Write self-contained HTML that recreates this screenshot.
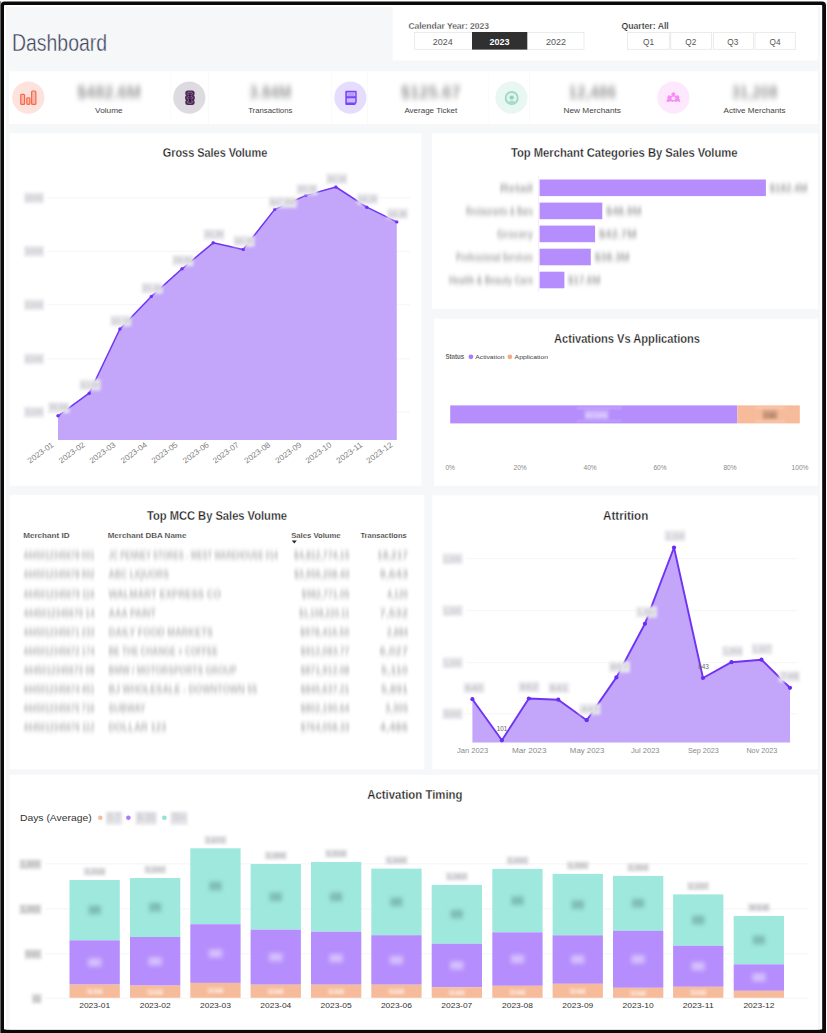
<!DOCTYPE html>
<html lang="en"><head><meta charset="utf-8"><title>Dashboard</title>
<style>
html,body{margin:0;padding:0;background:#fff;}
body{width:827px;height:1033px;overflow:hidden;font-family:"Liberation Sans",sans-serif;}
svg{display:block;position:absolute;left:0;top:0;}
text{font-family:"Liberation Sans",sans-serif;}
</style></head><body>
<svg width="827" height="1033" viewBox="0 0 827 1033">
<defs>
<filter id="b2" x="-30%" y="-100%" width="160%" height="300%"><feGaussianBlur stdDeviation="1.3 1.9"/></filter>
<filter id="b3" x="-30%" y="-100%" width="160%" height="300%"><feGaussianBlur stdDeviation="2.1 3.1"/></filter>
<filter id="bt" x="-30%" y="-100%" width="160%" height="300%"><feGaussianBlur stdDeviation="1.0 2.7"/></filter>
<filter id="bh" x="-40%" y="-100%" width="180%" height="300%"><feGaussianBlur stdDeviation="1.7"/></filter>
<filter id="bc" x="-30%" y="-100%" width="160%" height="300%"><feGaussianBlur stdDeviation="1.5 2.5"/></filter>
<filter id="bx" x="-60%" y="-100%" width="220%" height="300%"><feGaussianBlur stdDeviation="2.1"/></filter>
<filter id="bs" x="-40%" y="-100%" width="180%" height="300%"><feGaussianBlur stdDeviation="1.1"/></filter>
<filter id="soft" x="-10%" y="-10%" width="120%" height="120%"><feGaussianBlur stdDeviation="0.4"/></filter>
</defs>

<rect x="0" y="0" width="827" height="1033" fill="#fff"/>
<rect x="0" y="1.2" width="1.2" height="1032" fill="#8a8a8a"/>
<rect x="0.7" y="1.6" width="825.3" height="1045" rx="4" ry="4" fill="#0a0a0a"/>
<rect x="4" y="5" width="818.2" height="1024.6" rx="0.8" fill="#fff"/>
<rect x="6" y="7" width="814" height="1022.6" fill="#f6f7f9"/>
<rect x="392.6" y="7" width="425.4" height="53.4" fill="#fff"/>
<rect x="9" y="71.3" width="809.0" height="52.7" fill="#fff"/>
<rect x="9.5" y="133.3" width="411.9" height="352.4" fill="#fff"/>
<rect x="432" y="133.3" width="386.0" height="175.6" fill="#fff"/>
<rect x="434" y="318.7" width="384.0" height="167.0" fill="#fff"/>
<rect x="9.5" y="494.8" width="414.8" height="274.5" fill="#fff"/>
<rect x="432.3" y="495.4" width="385.7" height="273.9" fill="#fff"/>
<rect x="9.5" y="774.8" width="808.5" height="254.7" fill="#fff"/>
<text x="12.0" y="50.5" font-size="24.3" fill="#3b4157" textLength="95.0" lengthAdjust="spacingAndGlyphs" stroke="#f6f7f9" stroke-width="0.4">Dashboard</text>
<text x="408.4" y="28.9" font-size="8.3" fill="#252423" font-weight="700" textLength="80.6" lengthAdjust="spacingAndGlyphs" stroke="#fff" stroke-width="0.3">Calendar Year: 2023</text>
<rect x="414.4" y="32.4" width="169.6" height="16.9" fill="#fff" stroke="#e6e6e6" stroke-width="0.8"/>
<rect x="472" y="32" width="55.3" height="17.6" fill="#303030"/>
<text x="442.7" y="44.8" font-size="8.6" fill="#555" text-anchor="middle" textLength="20.0" lengthAdjust="spacingAndGlyphs">2024</text>
<text x="499.5" y="44.8" font-size="8.6" fill="#fff" font-weight="700" text-anchor="middle" textLength="20.0" lengthAdjust="spacingAndGlyphs">2023</text>
<text x="556.0" y="44.8" font-size="8.6" fill="#555" text-anchor="middle" textLength="20.0" lengthAdjust="spacingAndGlyphs">2022</text>
<text x="621.4" y="28.9" font-size="8.3" fill="#252423" font-weight="700" textLength="47.4" lengthAdjust="spacingAndGlyphs" stroke="#fff" stroke-width="0.2">Quarter: All</text>
<rect x="627.6" y="32.4" width="42.1" height="16.9" fill="#fff" stroke="#e6e6e6" stroke-width="0.8"/>
<text x="648.5" y="44.8" font-size="8.6" fill="#555" text-anchor="middle" textLength="11.0" lengthAdjust="spacingAndGlyphs">Q1</text>
<rect x="670.8" y="32.4" width="40.7" height="16.9" fill="#fff" stroke="#e6e6e6" stroke-width="0.8"/>
<text x="690.8" y="44.8" font-size="8.6" fill="#555" text-anchor="middle" textLength="11.0" lengthAdjust="spacingAndGlyphs">Q2</text>
<rect x="713.3" y="32.4" width="40.2" height="16.9" fill="#fff" stroke="#e6e6e6" stroke-width="0.8"/>
<text x="732.8" y="44.8" font-size="8.6" fill="#555" text-anchor="middle" textLength="11.0" lengthAdjust="spacingAndGlyphs">Q3</text>
<rect x="755.1" y="32.4" width="40.2" height="16.9" fill="#fff" stroke="#e6e6e6" stroke-width="0.8"/>
<text x="775.1" y="44.8" font-size="8.6" fill="#555" text-anchor="middle" textLength="11.0" lengthAdjust="spacingAndGlyphs">Q4</text>
<rect x="170.3" y="71.3" width="0.8" height="52.7" fill="#f9f9fb"/>
<rect x="208.0" y="71.3" width="0.8" height="52.7" fill="#f9f9fb"/>
<rect x="331.0" y="71.3" width="0.8" height="52.7" fill="#f9f9fb"/>
<rect x="367.2" y="71.3" width="0.8" height="52.7" fill="#f9f9fb"/>
<rect x="488.3" y="71.3" width="0.8" height="52.7" fill="#f9f9fb"/>
<rect x="529.2" y="71.3" width="0.8" height="52.7" fill="#f9f9fb"/>
<circle cx="28.3" cy="97.6" r="16.1" fill="#fde2dd"/>
<text x="108.9" y="98.2" font-size="17" fill="#4a4a4a" font-weight="700" text-anchor="middle" textLength="64.0" lengthAdjust="spacingAndGlyphs" filter="url(#b3)" opacity="0.56">$482.6M</text>
<text x="108.9" y="112.7" font-size="7.9" fill="#444" text-anchor="middle" textLength="27.6" lengthAdjust="spacingAndGlyphs">Volume</text>
<circle cx="189.3" cy="97.6" r="16.1" fill="#dedbe0"/>
<text x="270.3" y="98.2" font-size="17" fill="#4a4a4a" font-weight="700" text-anchor="middle" textLength="42.0" lengthAdjust="spacingAndGlyphs" filter="url(#b3)" opacity="0.56">3.84M</text>
<text x="270.3" y="112.7" font-size="7.9" fill="#444" text-anchor="middle" textLength="44.3" lengthAdjust="spacingAndGlyphs">Transactions</text>
<circle cx="350.4" cy="97.6" r="16.1" fill="#e6dcfd"/>
<text x="430.8" y="98.2" font-size="17" fill="#4a4a4a" font-weight="700" text-anchor="middle" textLength="60.0" lengthAdjust="spacingAndGlyphs" filter="url(#b3)" opacity="0.56">$125.67</text>
<text x="430.8" y="112.7" font-size="7.9" fill="#444" text-anchor="middle" textLength="52.8" lengthAdjust="spacingAndGlyphs">Average Ticket</text>
<circle cx="511.5" cy="97.6" r="16.1" fill="#e9f7f2"/>
<text x="592.2" y="98.2" font-size="17" fill="#4a4a4a" font-weight="700" text-anchor="middle" textLength="48.0" lengthAdjust="spacingAndGlyphs" filter="url(#b3)" opacity="0.56">12,486</text>
<text x="592.2" y="112.7" font-size="7.9" fill="#444" text-anchor="middle" textLength="57.5" lengthAdjust="spacingAndGlyphs">New Merchants</text>
<circle cx="673.4" cy="97.6" r="16.1" fill="#fde8fd"/>
<text x="754.5" y="98.2" font-size="17" fill="#4a4a4a" font-weight="700" text-anchor="middle" textLength="46.0" lengthAdjust="spacingAndGlyphs" filter="url(#b3)" opacity="0.56">31,208</text>
<text x="754.5" y="112.7" font-size="7.9" fill="#444" text-anchor="middle" textLength="62.0" lengthAdjust="spacingAndGlyphs">Active Merchants</text>
<g filter="url(#soft)">
<g fill="#f9b5a6" stroke="#f26a4b" stroke-width="1.15" stroke-linejoin="round"><rect x="20.7" y="94.3" width="3.9" height="10.1" rx="1"/><rect x="26.8" y="97.7" width="3.1" height="6.7" rx="0.8"/><rect x="31.6" y="91" width="4.3" height="13.4" rx="1"/></g>
<g><rect x="185.3" y="90.5" width="9.3" height="5.4" rx="2.5" fill="#4d2755"/><rect x="185.1" y="95" width="9.7" height="5.4" rx="2.5" fill="#4d2755"/><rect x="185.3" y="99.6" width="9.3" height="5.4" rx="2.5" fill="#4d2755"/><g fill="none" stroke="#9f8ba4" stroke-width="0.65"><ellipse cx="189.95" cy="93.6" rx="2.7" ry="1.5"/><ellipse cx="189.95" cy="97.8" rx="2.8" ry="1.5"/><ellipse cx="189.95" cy="101.9" rx="2.7" ry="1.5"/></g><circle cx="189.9" cy="95.7" r="1.15" fill="#35123b"/><circle cx="190.2" cy="99.9" r="1.25" fill="#35123b"/></g>
<g><path d="M345.3 91.7 q0 -1 1 -1 h9.4 q1 0 1 1 v10.9 l-1.7 2.4 h-8.7 q-1 0 -1 -1 z" fill="#7745f7"/><rect x="346.8" y="92.2" width="8.5" height="4" rx="0.5" fill="#c4b0fc"/><rect x="346.8" y="98.2" width="8.5" height="4.2" rx="0.5" fill="#cbb9fd"/><g fill="#9d7bfa"><rect x="348.6" y="92.8" width="0.7" height="3.2"/><rect x="350.6" y="92.8" width="0.7" height="3.2"/><rect x="352.6" y="92.8" width="0.7" height="3.2"/></g></g>
<g><circle cx="511.7" cy="98" r="6.1" fill="#dff3ea" stroke="#9ad8c0" stroke-width="1.7"/><circle cx="511.7" cy="97.5" r="2.1" fill="#8ed3b8"/><path d="M507.6 102.6 q4.1 -4.4 8.2 0 q-4.1 3.2 -8.2 0 z" fill="#a6dec9"/></g>
<g fill="#f78cf2"><circle cx="673.4" cy="94.2" r="1.9"/><circle cx="669.4" cy="97.2" r="1.9"/><circle cx="677.4" cy="97.2" r="1.9"/><path d="M666.3 101.6 q1 -3.6 3.1 -5 l4 -1.6 l4 1.6 q2.1 1.4 3.1 5 q-0.9 0.8 -1.7 0 q-0.9 -0.9 -1.8 0 q-0.9 0.9 -1.8 0 q-0.9 -0.9 -1.8 0 q-0.9 0.9 -1.8 0 q-0.9 -0.9 -1.8 0 q-0.9 0.9 -1.8 0 q-0.8 0.8 -1.7 0 z"/><circle cx="673.4" cy="98.3" r="1.9" fill="#fde3fc"/></g>
</g>
<text x="215.0" y="157.4" font-size="12.3" fill="#1c1c1c" font-weight="700" text-anchor="middle" textLength="104.6" lengthAdjust="spacingAndGlyphs" stroke="#fff" stroke-width="0.28">Gross Sales Volume</text>
<rect x="47" y="197.5" width="363" height="0.8" fill="#f2f2f2"/>
<g filter="url(#bh)"><rect x="24.0" y="192.4" width="20" height="11" fill="#e8e8ec" opacity="0.95"/><text x="34.0" y="200.8" font-size="8.4" font-weight="700" fill="#a5a5a8" opacity="0.4" text-anchor="middle" textLength="17.0" lengthAdjust="spacingAndGlyphs">$50M</text></g>
<rect x="47" y="250.9" width="363" height="0.8" fill="#f2f2f2"/>
<g filter="url(#bh)"><rect x="24.0" y="245.8" width="20" height="11" fill="#e8e8ec" opacity="0.95"/><text x="34.0" y="254.2" font-size="8.4" font-weight="700" fill="#a5a5a8" opacity="0.4" text-anchor="middle" textLength="17.0" lengthAdjust="spacingAndGlyphs">$40M</text></g>
<rect x="47" y="304.4" width="363" height="0.8" fill="#f2f2f2"/>
<g filter="url(#bh)"><rect x="24.0" y="299.3" width="20" height="11" fill="#e8e8ec" opacity="0.95"/><text x="34.0" y="307.7" font-size="8.4" font-weight="700" fill="#a5a5a8" opacity="0.4" text-anchor="middle" textLength="17.0" lengthAdjust="spacingAndGlyphs">$30M</text></g>
<rect x="47" y="358.5" width="363" height="0.8" fill="#f2f2f2"/>
<g filter="url(#bh)"><rect x="24.0" y="353.4" width="20" height="11" fill="#e8e8ec" opacity="0.95"/><text x="34.0" y="361.8" font-size="8.4" font-weight="700" fill="#a5a5a8" opacity="0.4" text-anchor="middle" textLength="17.0" lengthAdjust="spacingAndGlyphs">$20M</text></g>
<rect x="47" y="411.7" width="363" height="0.8" fill="#f2f2f2"/>
<g filter="url(#bh)"><rect x="24.0" y="406.6" width="20" height="11" fill="#e8e8ec" opacity="0.95"/><text x="34.0" y="415.0" font-size="8.4" font-weight="700" fill="#a5a5a8" opacity="0.4" text-anchor="middle" textLength="17.0" lengthAdjust="spacingAndGlyphs">$10M</text></g>
<path d="M58.0 415.8 L89.2 393.2 L119.9 329.0 L151.3 296.4 L182.0 268.8 L213.2 242.8 L243.2 249.4 L274.7 209.4 L305.8 195.4 L335.9 187.0 L366.8 207.2 L396.8 221.9 L396.8 440 L58.0 440 Z" fill="#c3a5fa"/>
<path d="M58.0 415.8 L89.2 393.2 L119.9 329.0 L151.3 296.4 L182.0 268.8 L213.2 242.8 L243.2 249.4 L274.7 209.4 L305.8 195.4 L335.9 187.0 L366.8 207.2 L396.8 221.9" fill="none" stroke="#6f33f4" stroke-width="1.5" stroke-linejoin="round"/>
<circle cx="58.0" cy="415.8" r="1.7" fill="#6a2df3"/>
<circle cx="89.2" cy="393.2" r="1.7" fill="#6a2df3"/>
<circle cx="119.9" cy="329.0" r="1.7" fill="#6a2df3"/>
<circle cx="151.3" cy="296.4" r="1.7" fill="#6a2df3"/>
<circle cx="182.0" cy="268.8" r="1.7" fill="#6a2df3"/>
<circle cx="213.2" cy="242.8" r="1.7" fill="#6a2df3"/>
<circle cx="243.2" cy="249.4" r="1.7" fill="#6a2df3"/>
<circle cx="274.7" cy="209.4" r="1.7" fill="#6a2df3"/>
<circle cx="305.8" cy="195.4" r="1.7" fill="#6a2df3"/>
<circle cx="335.9" cy="187.0" r="1.7" fill="#6a2df3"/>
<circle cx="366.8" cy="207.2" r="1.7" fill="#6a2df3"/>
<circle cx="396.8" cy="221.9" r="1.7" fill="#6a2df3"/>
<g filter="url(#bh)"><rect x="48.3" y="402.0" width="21" height="11" fill="#ebebf0" opacity="1"/><text x="58.8" y="410.4" font-size="8.6" font-weight="700" fill="#888" opacity="0.36" text-anchor="middle" textLength="18.0" lengthAdjust="spacingAndGlyphs">$9.6M</text></g>
<g filter="url(#bh)"><rect x="79.5" y="379.4" width="21" height="11" fill="#ebebf0" opacity="1"/><text x="90.0" y="387.8" font-size="8.6" font-weight="700" fill="#888" opacity="0.36" text-anchor="middle" textLength="18.0" lengthAdjust="spacingAndGlyphs">$13.8M</text></g>
<g filter="url(#bh)"><rect x="110.2" y="315.2" width="21" height="11" fill="#ebebf0" opacity="1"/><text x="120.7" y="323.6" font-size="8.6" font-weight="700" fill="#888" opacity="0.36" text-anchor="middle" textLength="18.0" lengthAdjust="spacingAndGlyphs">$25.7M</text></g>
<g filter="url(#bh)"><rect x="141.6" y="282.6" width="21" height="11" fill="#ebebf0" opacity="1"/><text x="152.1" y="291.0" font-size="8.6" font-weight="700" fill="#888" opacity="0.36" text-anchor="middle" textLength="18.0" lengthAdjust="spacingAndGlyphs">$31.4M</text></g>
<g filter="url(#bh)"><rect x="172.3" y="255.0" width="21" height="11" fill="#ebebf0" opacity="1"/><text x="182.8" y="263.4" font-size="8.6" font-weight="700" fill="#888" opacity="0.36" text-anchor="middle" textLength="18.0" lengthAdjust="spacingAndGlyphs">$36.6M</text></g>
<g filter="url(#bh)"><rect x="203.5" y="229.0" width="21" height="11" fill="#ebebf0" opacity="1"/><text x="214.0" y="237.4" font-size="8.6" font-weight="700" fill="#888" opacity="0.36" text-anchor="middle" textLength="18.0" lengthAdjust="spacingAndGlyphs">$41.5M</text></g>
<g filter="url(#bh)"><rect x="233.5" y="235.6" width="21" height="11" fill="#ebebf0" opacity="1"/><text x="244.0" y="244.0" font-size="8.6" font-weight="700" fill="#888" opacity="0.36" text-anchor="middle" textLength="18.0" lengthAdjust="spacingAndGlyphs">$40.3M</text></g>
<g filter="url(#bh)"><rect x="268.7" y="196.7" width="28" height="11" fill="#ebebf0" opacity="1"/><text x="282.7" y="205.1" font-size="8.6" font-weight="700" fill="#888" opacity="0.36" text-anchor="middle" textLength="25.0" lengthAdjust="spacingAndGlyphs">$47.8M</text></g>
<g filter="url(#bh)"><rect x="296.5" y="183.9" width="21" height="11" fill="#ebebf0" opacity="1"/><text x="307.0" y="192.3" font-size="8.6" font-weight="700" fill="#888" opacity="0.36" text-anchor="middle" textLength="18.0" lengthAdjust="spacingAndGlyphs">$50.2M</text></g>
<g filter="url(#bh)"><rect x="326.2" y="173.2" width="21" height="11" fill="#ebebf0" opacity="1"/><text x="336.7" y="181.6" font-size="8.6" font-weight="700" fill="#888" opacity="0.36" text-anchor="middle" textLength="18.0" lengthAdjust="spacingAndGlyphs">$52.1M</text></g>
<g filter="url(#bh)"><rect x="357.1" y="193.4" width="21" height="11" fill="#ebebf0" opacity="1"/><text x="367.6" y="201.8" font-size="8.6" font-weight="700" fill="#888" opacity="0.36" text-anchor="middle" textLength="18.0" lengthAdjust="spacingAndGlyphs">$48.2M</text></g>
<g filter="url(#bh)"><rect x="387.1" y="208.1" width="21" height="11" fill="#ebebf0" opacity="1"/><text x="397.6" y="216.5" font-size="8.6" font-weight="700" fill="#888" opacity="0.36" text-anchor="middle" textLength="18.0" lengthAdjust="spacingAndGlyphs">$45.3M</text></g>
<text x="54.3" y="446" font-size="8" fill="#808080" text-anchor="end" transform="rotate(-36 54.3 446)" textLength="30" lengthAdjust="spacingAndGlyphs">2023-01</text>
<text x="85.5" y="446" font-size="8" fill="#808080" text-anchor="end" transform="rotate(-36 85.5 446)" textLength="30" lengthAdjust="spacingAndGlyphs">2023-02</text>
<text x="116.2" y="446" font-size="8" fill="#808080" text-anchor="end" transform="rotate(-36 116.2 446)" textLength="30" lengthAdjust="spacingAndGlyphs">2023-03</text>
<text x="147.6" y="446" font-size="8" fill="#808080" text-anchor="end" transform="rotate(-36 147.6 446)" textLength="30" lengthAdjust="spacingAndGlyphs">2023-04</text>
<text x="178.3" y="446" font-size="8" fill="#808080" text-anchor="end" transform="rotate(-36 178.3 446)" textLength="30" lengthAdjust="spacingAndGlyphs">2023-05</text>
<text x="209.5" y="446" font-size="8" fill="#808080" text-anchor="end" transform="rotate(-36 209.5 446)" textLength="30" lengthAdjust="spacingAndGlyphs">2023-06</text>
<text x="239.5" y="446" font-size="8" fill="#808080" text-anchor="end" transform="rotate(-36 239.5 446)" textLength="30" lengthAdjust="spacingAndGlyphs">2023-07</text>
<text x="271.0" y="446" font-size="8" fill="#808080" text-anchor="end" transform="rotate(-36 271.0 446)" textLength="30" lengthAdjust="spacingAndGlyphs">2023-08</text>
<text x="302.1" y="446" font-size="8" fill="#808080" text-anchor="end" transform="rotate(-36 302.1 446)" textLength="30" lengthAdjust="spacingAndGlyphs">2023-09</text>
<text x="332.2" y="446" font-size="8" fill="#808080" text-anchor="end" transform="rotate(-36 332.2 446)" textLength="30" lengthAdjust="spacingAndGlyphs">2023-10</text>
<text x="363.1" y="446" font-size="8" fill="#808080" text-anchor="end" transform="rotate(-36 363.1 446)" textLength="30" lengthAdjust="spacingAndGlyphs">2023-11</text>
<text x="393.1" y="446" font-size="8" fill="#808080" text-anchor="end" transform="rotate(-36 393.1 446)" textLength="30" lengthAdjust="spacingAndGlyphs">2023-12</text>
<text x="624.2" y="157.2" font-size="12.3" fill="#1c1c1c" font-weight="700" text-anchor="middle" textLength="226.6" lengthAdjust="spacingAndGlyphs" stroke="#fff" stroke-width="0.28">Top Merchant Categories By Sales Volume</text>
<rect x="538.2" y="176" width="0.9" height="116" fill="#eee9fb"/>
<rect x="539.6" y="179.5" width="226.3" height="16.6" fill="#b58dfc"/>
<text x="533.0" y="191.6" font-size="10.6" fill="#555" font-weight="700" text-anchor="end" textLength="33.0" lengthAdjust="spacingAndGlyphs" filter="url(#bc)" opacity="0.55">Retail</text>
<text x="769.6" y="191.6" font-size="10.6" fill="#555" font-weight="700" textLength="38.0" lengthAdjust="spacingAndGlyphs" filter="url(#bc)" opacity="0.55">$182.4M</text>
<rect x="539.6" y="202.6" width="62.7" height="16.6" fill="#b58dfc"/>
<text x="533.0" y="214.7" font-size="10.6" fill="#555" font-weight="700" text-anchor="end" textLength="67.0" lengthAdjust="spacingAndGlyphs" filter="url(#bc)" opacity="0.55">Restaurants & Bars</text>
<text x="606.0" y="214.7" font-size="10.6" fill="#555" font-weight="700" textLength="35.6" lengthAdjust="spacingAndGlyphs" filter="url(#bc)" opacity="0.55">$48.9M</text>
<rect x="539.6" y="225.6" width="55.5" height="16.6" fill="#b58dfc"/>
<text x="533.0" y="237.7" font-size="10.6" fill="#555" font-weight="700" text-anchor="end" textLength="36.0" lengthAdjust="spacingAndGlyphs" filter="url(#bc)" opacity="0.55">Grocery</text>
<text x="598.8" y="237.7" font-size="10.6" fill="#555" font-weight="700" textLength="37.8" lengthAdjust="spacingAndGlyphs" filter="url(#bc)" opacity="0.55">$42.7M</text>
<rect x="539.6" y="248.7" width="51.2" height="16.6" fill="#b58dfc"/>
<text x="533.0" y="260.8" font-size="10.6" fill="#555" font-weight="700" text-anchor="end" textLength="77.0" lengthAdjust="spacingAndGlyphs" filter="url(#bc)" opacity="0.55">Professional Services</text>
<text x="594.5" y="260.8" font-size="10.6" fill="#555" font-weight="700" textLength="35.1" lengthAdjust="spacingAndGlyphs" filter="url(#bc)" opacity="0.55">$38.3M</text>
<rect x="539.6" y="271.7" width="24.8" height="16.6" fill="#b58dfc"/>
<text x="533.0" y="283.8" font-size="10.6" fill="#555" font-weight="700" text-anchor="end" textLength="84.0" lengthAdjust="spacingAndGlyphs" filter="url(#bc)" opacity="0.55">Health & Beauty Care</text>
<text x="568.1" y="283.8" font-size="10.6" fill="#555" font-weight="700" textLength="32.5" lengthAdjust="spacingAndGlyphs" filter="url(#bc)" opacity="0.55">$17.6M</text>
<text x="627.0" y="343.1" font-size="12.3" fill="#1c1c1c" font-weight="700" text-anchor="middle" textLength="146.0" lengthAdjust="spacingAndGlyphs" stroke="#fff" stroke-width="0.28">Activations Vs Applications</text>
<text x="445.4" y="359.0" font-size="6.4" fill="#2a2a2a" font-weight="700" textLength="18.8" lengthAdjust="spacingAndGlyphs" stroke="#fff" stroke-width="0.2">Status</text>
<circle cx="470.9" cy="356.8" r="2.4" fill="#a87bfb"/>
<text x="475.3" y="359.0" font-size="6.2" fill="#444" textLength="29.1" lengthAdjust="spacingAndGlyphs">Activation</text>
<circle cx="509.9" cy="356.8" r="2.4" fill="#f4ab84"/>
<text x="514.6" y="359.0" font-size="6.2" fill="#444" textLength="33.4" lengthAdjust="spacingAndGlyphs">Application</text>
<rect x="450.2" y="405.4" width="287.2" height="18" fill="#b58dfc"/>
<rect x="737.4" y="405.4" width="62.4" height="18" fill="#f6bb9a"/>
<g filter="url(#bs)"><rect x="577" y="407.6" width="45" height="0.9" fill="#fff" opacity="0.5"/><rect x="577" y="420.4" width="45" height="0.9" fill="#fff" opacity="0.35"/><rect x="755" y="407.4" width="30" height="0.9" fill="#fff" opacity="0.5"/><rect x="755" y="420.8" width="30" height="0.9" fill="#fff" opacity="0.5"/></g>
<g filter="url(#bh)"><rect x="584.5" y="410.1" width="24" height="9" fill="#d2bdfe" opacity="0.75"/><text x="596.5" y="417.5" font-size="8" font-weight="700" fill="#fff" opacity="0.5" text-anchor="middle" textLength="21.0" lengthAdjust="spacingAndGlyphs">82.14%</text></g>
<g filter="url(#bh)"><rect x="762.5" y="410.1" width="15" height="9" fill="#c9957a" opacity="0.75"/><text x="770.0" y="417.5" font-size="8" font-weight="700" fill="#7a5646" opacity="0.6" text-anchor="middle" textLength="12.0" lengthAdjust="spacingAndGlyphs">17.86%</text></g>
<text x="450.2" y="470.4" font-size="6.6" fill="#8a8a8a" text-anchor="middle">0%</text>
<text x="520.1" y="470.4" font-size="6.6" fill="#8a8a8a" text-anchor="middle">20%</text>
<text x="590.1" y="470.4" font-size="6.6" fill="#8a8a8a" text-anchor="middle">40%</text>
<text x="660.0" y="470.4" font-size="6.6" fill="#8a8a8a" text-anchor="middle">60%</text>
<text x="730.0" y="470.4" font-size="6.6" fill="#8a8a8a" text-anchor="middle">80%</text>
<text x="800.0" y="470.4" font-size="6.6" fill="#8a8a8a" text-anchor="middle">100%</text>
<text x="217.0" y="519.8" font-size="12.3" fill="#1c1c1c" font-weight="700" text-anchor="middle" textLength="140.0" lengthAdjust="spacingAndGlyphs" stroke="#fff" stroke-width="0.28">Top MCC By Sales Volume</text>
<text x="23.2" y="538.1" font-size="7.6" fill="#252423" font-weight="700" textLength="46.3" lengthAdjust="spacingAndGlyphs" stroke="#fff" stroke-width="0.2">Merchant ID</text>
<text x="107.7" y="538.1" font-size="7.6" fill="#252423" font-weight="700" textLength="78.7" lengthAdjust="spacingAndGlyphs" stroke="#fff" stroke-width="0.2">Merchant DBA Name</text>
<text x="291.2" y="538.1" font-size="7.6" fill="#252423" font-weight="700" textLength="49.4" lengthAdjust="spacingAndGlyphs" stroke="#fff" stroke-width="0.2">Sales Volume</text>
<text x="360.4" y="538.1" font-size="7.6" fill="#252423" font-weight="700" textLength="46.3" lengthAdjust="spacingAndGlyphs" stroke="#fff" stroke-width="0.2">Transactions</text>
<path d="M291.8 540.6 h5 l-2.5 2.8 z" fill="#252423"/>
<text x="23.5" y="558.9" font-size="10.6" fill="#555" font-weight="700" textLength="71.0" lengthAdjust="spacingAndGlyphs" filter="url(#bt)" opacity="0.44">4445012345678 001</text>
<text x="108.5" y="558.9" font-size="10.6" fill="#555" font-weight="700" textLength="169.5" lengthAdjust="spacingAndGlyphs" filter="url(#bt)" opacity="0.44">JC PENNEY STORES - WEST WAREHOUSE 014</text>
<text x="349.5" y="558.9" font-size="10.6" fill="#555" font-weight="700" text-anchor="end" textLength="55.7" lengthAdjust="spacingAndGlyphs" filter="url(#bt)" opacity="0.44">$4,812,774.15</text>
<text x="408.0" y="558.9" font-size="10.6" fill="#555" font-weight="700" text-anchor="end" textLength="31.0" lengthAdjust="spacingAndGlyphs" filter="url(#bt)" opacity="0.44">18,217</text>
<text x="23.5" y="578.3" font-size="10.6" fill="#555" font-weight="700" textLength="71.0" lengthAdjust="spacingAndGlyphs" filter="url(#bt)" opacity="0.44">4445012345678 902</text>
<text x="108.5" y="578.3" font-size="10.6" fill="#555" font-weight="700" textLength="60.5" lengthAdjust="spacingAndGlyphs" filter="url(#bt)" opacity="0.44">ABC LIQUORS</text>
<text x="349.5" y="578.3" font-size="10.6" fill="#555" font-weight="700" text-anchor="end" textLength="55.5" lengthAdjust="spacingAndGlyphs" filter="url(#bt)" opacity="0.44">$3,956,208.40</text>
<text x="408.0" y="578.3" font-size="10.6" fill="#555" font-weight="700" text-anchor="end" textLength="28.4" lengthAdjust="spacingAndGlyphs" filter="url(#bt)" opacity="0.44">9,643</text>
<text x="23.5" y="597.5" font-size="10.6" fill="#555" font-weight="700" textLength="71.0" lengthAdjust="spacingAndGlyphs" filter="url(#bt)" opacity="0.44">4445012345679 116</text>
<text x="108.5" y="597.5" font-size="10.6" fill="#555" font-weight="700" textLength="112.5" lengthAdjust="spacingAndGlyphs" filter="url(#bt)" opacity="0.44">WALMART EXPRESS CO</text>
<text x="349.5" y="597.5" font-size="10.6" fill="#555" font-weight="700" text-anchor="end" textLength="47.9" lengthAdjust="spacingAndGlyphs" filter="url(#bt)" opacity="0.44">$982,771.05</text>
<text x="408.0" y="597.5" font-size="10.6" fill="#555" font-weight="700" text-anchor="end" textLength="21.0" lengthAdjust="spacingAndGlyphs" filter="url(#bt)" opacity="0.44">4,120</text>
<text x="23.5" y="616.7" font-size="10.6" fill="#555" font-weight="700" textLength="71.0" lengthAdjust="spacingAndGlyphs" filter="url(#bt)" opacity="0.44">4445012345670 14</text>
<text x="108.5" y="616.7" font-size="10.6" fill="#555" font-weight="700" textLength="47.5" lengthAdjust="spacingAndGlyphs" filter="url(#bt)" opacity="0.44">AAA PAINT</text>
<text x="349.5" y="616.7" font-size="10.6" fill="#555" font-weight="700" text-anchor="end" textLength="50.5" lengthAdjust="spacingAndGlyphs" filter="url(#bt)" opacity="0.44">$1,108,220.11</text>
<text x="408.0" y="616.7" font-size="10.6" fill="#555" font-weight="700" text-anchor="end" textLength="28.4" lengthAdjust="spacingAndGlyphs" filter="url(#bt)" opacity="0.44">7,532</text>
<text x="23.5" y="635.8" font-size="10.6" fill="#555" font-weight="700" textLength="71.0" lengthAdjust="spacingAndGlyphs" filter="url(#bt)" opacity="0.44">4445012345671 233</text>
<text x="108.5" y="635.8" font-size="10.6" fill="#555" font-weight="700" textLength="104.5" lengthAdjust="spacingAndGlyphs" filter="url(#bt)" opacity="0.44">DAILY FOOD MARKETS</text>
<text x="349.5" y="635.8" font-size="10.6" fill="#555" font-weight="700" text-anchor="end" textLength="49.5" lengthAdjust="spacingAndGlyphs" filter="url(#bt)" opacity="0.44">$978,416.50</text>
<text x="408.0" y="635.8" font-size="10.6" fill="#555" font-weight="700" text-anchor="end" textLength="21.0" lengthAdjust="spacingAndGlyphs" filter="url(#bt)" opacity="0.44">2,884</text>
<text x="23.5" y="655.0" font-size="10.6" fill="#555" font-weight="700" textLength="71.0" lengthAdjust="spacingAndGlyphs" filter="url(#bt)" opacity="0.44">4445012345672 174</text>
<text x="108.5" y="655.0" font-size="10.6" fill="#555" font-weight="700" textLength="109.5" lengthAdjust="spacingAndGlyphs" filter="url(#bt)" opacity="0.44">BE THE CHANGE + COFFEE</text>
<text x="349.5" y="655.0" font-size="10.6" fill="#555" font-weight="700" text-anchor="end" textLength="48.9" lengthAdjust="spacingAndGlyphs" filter="url(#bt)" opacity="0.44">$912,083.77</text>
<text x="408.0" y="655.0" font-size="10.6" fill="#555" font-weight="700" text-anchor="end" textLength="28.4" lengthAdjust="spacingAndGlyphs" filter="url(#bt)" opacity="0.44">6,027</text>
<text x="23.5" y="674.0" font-size="10.6" fill="#555" font-weight="700" textLength="71.0" lengthAdjust="spacingAndGlyphs" filter="url(#bt)" opacity="0.44">4445012345673 08</text>
<text x="108.5" y="674.0" font-size="10.6" fill="#555" font-weight="700" textLength="128.1" lengthAdjust="spacingAndGlyphs" filter="url(#bt)" opacity="0.44">BMW / MOTORSPORTS GROUP</text>
<text x="349.5" y="674.0" font-size="10.6" fill="#555" font-weight="700" text-anchor="end" textLength="48.9" lengthAdjust="spacingAndGlyphs" filter="url(#bt)" opacity="0.44">$871,912.08</text>
<text x="408.0" y="674.0" font-size="10.6" fill="#555" font-weight="700" text-anchor="end" textLength="27.0" lengthAdjust="spacingAndGlyphs" filter="url(#bt)" opacity="0.44">5,110</text>
<text x="23.5" y="693.2" font-size="10.6" fill="#555" font-weight="700" textLength="71.0" lengthAdjust="spacingAndGlyphs" filter="url(#bt)" opacity="0.44">4445012345674 451</text>
<text x="108.5" y="693.2" font-size="10.6" fill="#555" font-weight="700" textLength="148.9" lengthAdjust="spacingAndGlyphs" filter="url(#bt)" opacity="0.44">BJ WHOLESALE - DOWNTOWN 55</text>
<text x="349.5" y="693.2" font-size="10.6" fill="#555" font-weight="700" text-anchor="end" textLength="48.9" lengthAdjust="spacingAndGlyphs" filter="url(#bt)" opacity="0.44">$845,637.21</text>
<text x="408.0" y="693.2" font-size="10.6" fill="#555" font-weight="700" text-anchor="end" textLength="27.0" lengthAdjust="spacingAndGlyphs" filter="url(#bt)" opacity="0.44">5,891</text>
<text x="23.5" y="712.4" font-size="10.6" fill="#555" font-weight="700" textLength="71.0" lengthAdjust="spacingAndGlyphs" filter="url(#bt)" opacity="0.44">4445012345675 716</text>
<text x="108.5" y="712.4" font-size="10.6" fill="#555" font-weight="700" textLength="37.1" lengthAdjust="spacingAndGlyphs" filter="url(#bt)" opacity="0.44">SUBWAY</text>
<text x="349.5" y="712.4" font-size="10.6" fill="#555" font-weight="700" text-anchor="end" textLength="48.9" lengthAdjust="spacingAndGlyphs" filter="url(#bt)" opacity="0.44">$802,190.64</text>
<text x="408.0" y="712.4" font-size="10.6" fill="#555" font-weight="700" text-anchor="end" textLength="23.0" lengthAdjust="spacingAndGlyphs" filter="url(#bt)" opacity="0.44">3,305</text>
<text x="23.5" y="731.4" font-size="10.6" fill="#555" font-weight="700" textLength="71.0" lengthAdjust="spacingAndGlyphs" filter="url(#bt)" opacity="0.44">4445012345676 112</text>
<text x="108.5" y="731.4" font-size="10.6" fill="#555" font-weight="700" textLength="57.9" lengthAdjust="spacingAndGlyphs" filter="url(#bt)" opacity="0.44">DOLLAR 123</text>
<text x="349.5" y="731.4" font-size="10.6" fill="#555" font-weight="700" text-anchor="end" textLength="48.9" lengthAdjust="spacingAndGlyphs" filter="url(#bt)" opacity="0.44">$764,058.33</text>
<text x="408.0" y="731.4" font-size="10.6" fill="#555" font-weight="700" text-anchor="end" textLength="28.4" lengthAdjust="spacingAndGlyphs" filter="url(#bt)" opacity="0.44">4,486</text>
<text x="625.7" y="519.6" font-size="12.3" fill="#1c1c1c" font-weight="700" text-anchor="middle" textLength="45.3" lengthAdjust="spacingAndGlyphs" stroke="#fff" stroke-width="0.28">Attrition</text>
<rect x="466.3" y="558.3" width="330.5" height="0.8" fill="#f2f2f2"/>
<g filter="url(#bh)"><rect x="442.5" y="553.2" width="20" height="11" fill="#e8e8ec" opacity="0.95"/><text x="452.5" y="561.6" font-size="8.4" font-weight="700" fill="#a5a5a8" opacity="0.4" text-anchor="middle" textLength="17.0" lengthAdjust="spacingAndGlyphs">2,000</text></g>
<rect x="466.3" y="610.3" width="330.5" height="0.8" fill="#f2f2f2"/>
<g filter="url(#bh)"><rect x="442.5" y="605.2" width="20" height="11" fill="#e8e8ec" opacity="0.95"/><text x="452.5" y="613.6" font-size="8.4" font-weight="700" fill="#a5a5a8" opacity="0.4" text-anchor="middle" textLength="17.0" lengthAdjust="spacingAndGlyphs">1,500</text></g>
<rect x="466.3" y="662.4" width="330.5" height="0.8" fill="#f2f2f2"/>
<g filter="url(#bh)"><rect x="442.5" y="657.3" width="20" height="11" fill="#e8e8ec" opacity="0.95"/><text x="452.5" y="665.7" font-size="8.4" font-weight="700" fill="#a5a5a8" opacity="0.4" text-anchor="middle" textLength="17.0" lengthAdjust="spacingAndGlyphs">1,000</text></g>
<rect x="466.3" y="713.4" width="330.5" height="0.8" fill="#f2f2f2"/>
<g filter="url(#bh)"><rect x="442.5" y="708.3" width="20" height="11" fill="#e8e8ec" opacity="0.95"/><text x="452.5" y="716.7" font-size="8.4" font-weight="700" fill="#a5a5a8" opacity="0.4" text-anchor="middle" textLength="17.0" lengthAdjust="spacingAndGlyphs">500</text></g>
<path d="M472.4 699.2 L501.9 740.3 L528.8 698.5 L558.3 699.7 L586.7 720.2 L616.4 677.4 L644.9 623.8 L674.0 547.5 L703.0 678.0 L731.5 662.2 L761.5 659.7 L790.0 687.8 L790.0 742.6 L472.4 742.6 Z" fill="#c3a5fa"/>
<path d="M472.4 699.2 L501.9 740.3 L528.8 698.5 L558.3 699.7 L586.7 720.2 L616.4 677.4 L644.9 623.8 L674.0 547.5 L703.0 678.0 L731.5 662.2 L761.5 659.7 L790.0 687.8" fill="none" stroke="#6f33f4" stroke-width="1.9" stroke-linejoin="round"/>
<circle cx="472.4" cy="699.2" r="2.1" fill="#6a2df3"/>
<circle cx="501.9" cy="740.3" r="2.1" fill="#6a2df3"/>
<circle cx="528.8" cy="698.5" r="2.1" fill="#6a2df3"/>
<circle cx="558.3" cy="699.7" r="2.1" fill="#6a2df3"/>
<circle cx="586.7" cy="720.2" r="2.1" fill="#6a2df3"/>
<circle cx="616.4" cy="677.4" r="2.1" fill="#6a2df3"/>
<circle cx="644.9" cy="623.8" r="2.1" fill="#6a2df3"/>
<circle cx="674.0" cy="547.5" r="2.1" fill="#6a2df3"/>
<circle cx="703.0" cy="678.0" r="2.1" fill="#6a2df3"/>
<circle cx="731.5" cy="662.2" r="2.1" fill="#6a2df3"/>
<circle cx="761.5" cy="659.7" r="2.1" fill="#6a2df3"/>
<circle cx="790.0" cy="687.8" r="2.1" fill="#6a2df3"/>
<g filter="url(#bh)"><rect x="463.5" y="682.3" width="21" height="11" fill="#ebebf0" opacity="1"/><text x="474.0" y="690.7" font-size="8.6" font-weight="700" fill="#888" opacity="0.36" text-anchor="middle" textLength="18.0" lengthAdjust="spacingAndGlyphs">640</text></g>
<g filter="url(#bh)"><rect x="518.5" y="681.3" width="21" height="11" fill="#ebebf0" opacity="1"/><text x="529.0" y="689.7" font-size="8.6" font-weight="700" fill="#888" opacity="0.36" text-anchor="middle" textLength="18.0" lengthAdjust="spacingAndGlyphs">652</text></g>
<g filter="url(#bh)"><rect x="548.3" y="682.3" width="21" height="11" fill="#ebebf0" opacity="1"/><text x="558.8" y="690.7" font-size="8.6" font-weight="700" fill="#888" opacity="0.36" text-anchor="middle" textLength="18.0" lengthAdjust="spacingAndGlyphs">641</text></g>
<g filter="url(#bh)"><rect x="579.3" y="703.5" width="21" height="11" fill="#ebebf0" opacity="1"/><text x="589.8" y="711.9" font-size="8.6" font-weight="700" fill="#888" opacity="0.36" text-anchor="middle" textLength="18.0" lengthAdjust="spacingAndGlyphs">443</text></g>
<g filter="url(#bh)"><rect x="608.8" y="661.5" width="21" height="11" fill="#ebebf0" opacity="1"/><text x="619.3" y="669.9" font-size="8.6" font-weight="700" fill="#888" opacity="0.36" text-anchor="middle" textLength="18.0" lengthAdjust="spacingAndGlyphs">857</text></g>
<g filter="url(#bh)"><rect x="635.9" y="606.5" width="21" height="11" fill="#ebebf0" opacity="1"/><text x="646.4" y="614.9" font-size="8.6" font-weight="700" fill="#888" opacity="0.36" text-anchor="middle" textLength="18.0" lengthAdjust="spacingAndGlyphs">1,382</text></g>
<g filter="url(#bh)"><rect x="664.5" y="530.2" width="21" height="11" fill="#ebebf0" opacity="1"/><text x="675.0" y="538.6" font-size="8.6" font-weight="700" fill="#888" opacity="0.36" text-anchor="middle" textLength="18.0" lengthAdjust="spacingAndGlyphs">2,116</text></g>
<g filter="url(#bh)"><rect x="722.0" y="645.8" width="21" height="11" fill="#ebebf0" opacity="1"/><text x="732.5" y="654.2" font-size="8.6" font-weight="700" fill="#888" opacity="0.36" text-anchor="middle" textLength="18.0" lengthAdjust="spacingAndGlyphs">1,004</text></g>
<g filter="url(#bh)"><rect x="751.5" y="643.5" width="21" height="11" fill="#ebebf0" opacity="1"/><text x="762.0" y="651.9" font-size="8.6" font-weight="700" fill="#888" opacity="0.36" text-anchor="middle" textLength="18.0" lengthAdjust="spacingAndGlyphs">1,027</text></g>
<g filter="url(#bh)"><rect x="779.0" y="671.0" width="21" height="11" fill="#ebebf0" opacity="1"/><text x="789.5" y="679.4" font-size="8.6" font-weight="700" fill="#888" opacity="0.36" text-anchor="middle" textLength="18.0" lengthAdjust="spacingAndGlyphs">748</text></g>
<text x="502.0" y="730.6" font-size="6.4" fill="#666" text-anchor="middle">101</text>
<text x="703.6" y="668.6" font-size="6.4" fill="#666" text-anchor="middle">643</text>
<text x="472.6" y="753.4" font-size="7.8" fill="#8a8a8a" text-anchor="middle" textLength="31.0" lengthAdjust="spacingAndGlyphs">Jan 2023</text>
<text x="529.2" y="753.4" font-size="7.8" fill="#8a8a8a" text-anchor="middle" textLength="34.5" lengthAdjust="spacingAndGlyphs">Mar 2023</text>
<text x="587.1" y="753.4" font-size="7.8" fill="#8a8a8a" text-anchor="middle" textLength="34.5" lengthAdjust="spacingAndGlyphs">May 2023</text>
<text x="645.3" y="753.4" font-size="7.8" fill="#8a8a8a" text-anchor="middle" textLength="28.5" lengthAdjust="spacingAndGlyphs">Jul 2023</text>
<text x="703.4" y="753.4" font-size="7.8" fill="#8a8a8a" text-anchor="middle" textLength="31.0" lengthAdjust="spacingAndGlyphs">Sep 2023</text>
<text x="761.9" y="753.4" font-size="7.8" fill="#8a8a8a" text-anchor="middle" textLength="31.0" lengthAdjust="spacingAndGlyphs">Nov 2023</text>
<text x="414.9" y="799.0" font-size="12.3" fill="#1c1c1c" font-weight="700" text-anchor="middle" textLength="95.2" lengthAdjust="spacingAndGlyphs" stroke="#fff" stroke-width="0.28">Activation Timing</text>
<text x="20.0" y="821.4" font-size="9.8" fill="#333" textLength="71.6" lengthAdjust="spacingAndGlyphs">Days (Average)</text>
<circle cx="100.3" cy="817.8" r="2.3" fill="#f6bb9a"/>
<g filter="url(#bh)"><rect x="106.0" y="811.7" width="16" height="13" fill="#e3e3e8" opacity="0.95"/><text x="114.0" y="821.1" font-size="10" font-weight="700" fill="#aaa" opacity="0.4" text-anchor="middle" textLength="13.0" lengthAdjust="spacingAndGlyphs">0-7</text></g>
<circle cx="128.4" cy="817.8" r="2.3" fill="#a87bfb"/>
<g filter="url(#bh)"><rect x="135.7" y="811.7" width="21" height="13" fill="#e3e3e8" opacity="0.95"/><text x="146.2" y="821.1" font-size="10" font-weight="700" fill="#aaa" opacity="0.4" text-anchor="middle" textLength="18.0" lengthAdjust="spacingAndGlyphs">8-30</text></g>
<circle cx="164.4" cy="817.8" r="2.3" fill="#8fe3d8"/>
<g filter="url(#bh)"><rect x="170.5" y="811.7" width="17" height="13" fill="#e3e3e8" opacity="0.95"/><text x="179.0" y="821.1" font-size="10" font-weight="700" fill="#aaa" opacity="0.4" text-anchor="middle" textLength="14.0" lengthAdjust="spacingAndGlyphs">30+</text></g>
<rect x="45" y="863.5" width="763.6" height="0.8" fill="#f2f2f2"/>
<g filter="url(#bh)"><rect x="19.3" y="859.3" width="22" height="10" fill="#dcdce0" opacity="0.92"/><text x="30.3" y="867.2" font-size="8.4" font-weight="700" fill="#8a8a8a" opacity="0.5" text-anchor="middle" textLength="19.0" lengthAdjust="spacingAndGlyphs">1,500</text></g>
<rect x="45" y="908.5" width="763.6" height="0.8" fill="#f2f2f2"/>
<g filter="url(#bh)"><rect x="19.3" y="904.3" width="22" height="10" fill="#dcdce0" opacity="0.92"/><text x="30.3" y="912.2" font-size="8.4" font-weight="700" fill="#8a8a8a" opacity="0.5" text-anchor="middle" textLength="19.0" lengthAdjust="spacingAndGlyphs">1,000</text></g>
<rect x="45" y="953.4" width="763.6" height="0.8" fill="#f2f2f2"/>
<g filter="url(#bh)"><rect x="24.5" y="949.2" width="17" height="10" fill="#dcdce0" opacity="0.92"/><text x="33.0" y="957.1" font-size="8.4" font-weight="700" fill="#8a8a8a" opacity="0.5" text-anchor="middle" textLength="14.0" lengthAdjust="spacingAndGlyphs">500</text></g>
<rect x="45" y="997.8" width="763.6" height="0.8" fill="#f2f2f2"/>
<g filter="url(#bh)"><rect x="31.8" y="993.6" width="10" height="10" fill="#dcdce0" opacity="0.92"/><text x="36.8" y="1001.5" font-size="8.4" font-weight="700" fill="#8a8a8a" opacity="0.5" text-anchor="middle" textLength="7.0" lengthAdjust="spacingAndGlyphs">0</text></g>
<rect x="69.5" y="880" width="50.3" height="60.3" fill="#9fe8de"/>
<rect x="69.5" y="940.3" width="50.3" height="44.3" fill="#b58dfc"/>
<rect x="69.5" y="984.6" width="50.3" height="13.2" fill="#f6bb9a"/>
<g filter="url(#bh)"><rect x="83.7" y="867.5" width="22" height="8" fill="#e0e0e3" opacity="0.9"/><text x="94.7" y="874.4" font-size="8" font-weight="700" fill="#888" opacity="0.4" text-anchor="middle" textLength="19.0" lengthAdjust="spacingAndGlyphs">1,318</text></g>
<g filter="url(#bx)"><rect x="88.2" y="905.1" width="13" height="10" fill="#79bdb4" opacity="0.6"/><text x="94.7" y="913.0" font-size="9" font-weight="700" fill="#46605d" opacity="0.4" text-anchor="middle" textLength="10.0" lengthAdjust="spacingAndGlyphs">678</text></g>
<g filter="url(#bx)"><rect x="87.7" y="958.0" width="14" height="9" fill="#d3bdfe" opacity="0.75"/><text x="94.7" y="965.4" font-size="9" font-weight="700" fill="#fff" opacity="0.35" text-anchor="middle" textLength="11.0" lengthAdjust="spacingAndGlyphs">492</text></g>
<g filter="url(#bs)"><rect x="86.2" y="988.2" width="17" height="6" fill="#f9d3bd" opacity="0.7"/><text x="94.7" y="994.1" font-size="6" font-weight="700" fill="#fff" opacity="0.5" text-anchor="middle" textLength="14.0" lengthAdjust="spacingAndGlyphs">148</text></g>
<text x="94.7" y="1008.0" font-size="7.8" fill="#333" text-anchor="middle" textLength="31.0" lengthAdjust="spacingAndGlyphs">2023-01</text>
<rect x="130" y="878" width="50.3" height="59.0" fill="#9fe8de"/>
<rect x="130" y="937" width="50.3" height="48.6" fill="#b58dfc"/>
<rect x="130" y="985.6" width="50.3" height="12.2" fill="#f6bb9a"/>
<g filter="url(#bh)"><rect x="144.2" y="865.5" width="22" height="8" fill="#e0e0e3" opacity="0.9"/><text x="155.2" y="872.4" font-size="8" font-weight="700" fill="#888" opacity="0.4" text-anchor="middle" textLength="19.0" lengthAdjust="spacingAndGlyphs">1,342</text></g>
<g filter="url(#bx)"><rect x="148.7" y="902.5" width="13" height="10" fill="#79bdb4" opacity="0.6"/><text x="155.2" y="910.4" font-size="9" font-weight="700" fill="#46605d" opacity="0.4" text-anchor="middle" textLength="10.0" lengthAdjust="spacingAndGlyphs">678</text></g>
<g filter="url(#bx)"><rect x="148.2" y="956.8" width="14" height="9" fill="#d3bdfe" opacity="0.75"/><text x="155.2" y="964.2" font-size="9" font-weight="700" fill="#fff" opacity="0.35" text-anchor="middle" textLength="11.0" lengthAdjust="spacingAndGlyphs">492</text></g>
<g filter="url(#bs)"><rect x="146.7" y="988.7" width="17" height="6" fill="#f9d3bd" opacity="0.7"/><text x="155.2" y="994.6" font-size="6" font-weight="700" fill="#fff" opacity="0.5" text-anchor="middle" textLength="14.0" lengthAdjust="spacingAndGlyphs">148</text></g>
<text x="155.2" y="1008.0" font-size="7.8" fill="#333" text-anchor="middle" textLength="31.0" lengthAdjust="spacingAndGlyphs">2023-02</text>
<rect x="190.3" y="848.3" width="50.3" height="75.9" fill="#9fe8de"/>
<rect x="190.3" y="924.2" width="50.3" height="58.7" fill="#b58dfc"/>
<rect x="190.3" y="982.9" width="50.3" height="14.9" fill="#f6bb9a"/>
<g filter="url(#bh)"><rect x="204.5" y="835.8" width="22" height="8" fill="#e0e0e3" opacity="0.9"/><text x="215.5" y="842.7" font-size="8" font-weight="700" fill="#888" opacity="0.4" text-anchor="middle" textLength="19.0" lengthAdjust="spacingAndGlyphs">1,672</text></g>
<g filter="url(#bx)"><rect x="209.0" y="881.2" width="13" height="10" fill="#79bdb4" opacity="0.6"/><text x="215.5" y="889.1" font-size="9" font-weight="700" fill="#46605d" opacity="0.4" text-anchor="middle" textLength="10.0" lengthAdjust="spacingAndGlyphs">678</text></g>
<g filter="url(#bx)"><rect x="208.5" y="949.0" width="14" height="9" fill="#d3bdfe" opacity="0.75"/><text x="215.5" y="956.4" font-size="9" font-weight="700" fill="#fff" opacity="0.35" text-anchor="middle" textLength="11.0" lengthAdjust="spacingAndGlyphs">492</text></g>
<g filter="url(#bs)"><rect x="207.0" y="987.3" width="17" height="6" fill="#f9d3bd" opacity="0.7"/><text x="215.5" y="993.2" font-size="6" font-weight="700" fill="#fff" opacity="0.5" text-anchor="middle" textLength="14.0" lengthAdjust="spacingAndGlyphs">148</text></g>
<text x="215.5" y="1008.0" font-size="7.8" fill="#333" text-anchor="middle" textLength="31.0" lengthAdjust="spacingAndGlyphs">2023-03</text>
<rect x="250.6" y="864" width="50.3" height="65.7" fill="#9fe8de"/>
<rect x="250.6" y="929.7" width="50.3" height="55.0" fill="#b58dfc"/>
<rect x="250.6" y="984.7" width="50.3" height="13.1" fill="#f6bb9a"/>
<g filter="url(#bh)"><rect x="264.8" y="851.5" width="22" height="8" fill="#e0e0e3" opacity="0.9"/><text x="275.8" y="858.4" font-size="8" font-weight="700" fill="#888" opacity="0.4" text-anchor="middle" textLength="19.0" lengthAdjust="spacingAndGlyphs">1,496</text></g>
<g filter="url(#bx)"><rect x="269.2" y="891.9" width="13" height="10" fill="#79bdb4" opacity="0.6"/><text x="275.8" y="899.8" font-size="9" font-weight="700" fill="#46605d" opacity="0.4" text-anchor="middle" textLength="10.0" lengthAdjust="spacingAndGlyphs">678</text></g>
<g filter="url(#bx)"><rect x="268.8" y="952.7" width="14" height="9" fill="#d3bdfe" opacity="0.75"/><text x="275.8" y="960.1" font-size="9" font-weight="700" fill="#fff" opacity="0.35" text-anchor="middle" textLength="11.0" lengthAdjust="spacingAndGlyphs">492</text></g>
<g filter="url(#bs)"><rect x="267.2" y="988.2" width="17" height="6" fill="#f9d3bd" opacity="0.7"/><text x="275.8" y="994.1" font-size="6" font-weight="700" fill="#fff" opacity="0.5" text-anchor="middle" textLength="14.0" lengthAdjust="spacingAndGlyphs">148</text></g>
<text x="275.8" y="1008.0" font-size="7.8" fill="#333" text-anchor="middle" textLength="31.0" lengthAdjust="spacingAndGlyphs">2023-04</text>
<rect x="311" y="862" width="50.3" height="69.7" fill="#9fe8de"/>
<rect x="311" y="931.7" width="50.3" height="53.0" fill="#b58dfc"/>
<rect x="311" y="984.7" width="50.3" height="13.1" fill="#f6bb9a"/>
<g filter="url(#bh)"><rect x="325.1" y="849.5" width="22" height="8" fill="#e0e0e3" opacity="0.9"/><text x="336.1" y="856.4" font-size="8" font-weight="700" fill="#888" opacity="0.4" text-anchor="middle" textLength="19.0" lengthAdjust="spacingAndGlyphs">1,518</text></g>
<g filter="url(#bx)"><rect x="329.6" y="891.9" width="13" height="10" fill="#79bdb4" opacity="0.6"/><text x="336.1" y="899.8" font-size="9" font-weight="700" fill="#46605d" opacity="0.4" text-anchor="middle" textLength="10.0" lengthAdjust="spacingAndGlyphs">678</text></g>
<g filter="url(#bx)"><rect x="329.1" y="953.7" width="14" height="9" fill="#d3bdfe" opacity="0.75"/><text x="336.1" y="961.1" font-size="9" font-weight="700" fill="#fff" opacity="0.35" text-anchor="middle" textLength="11.0" lengthAdjust="spacingAndGlyphs">492</text></g>
<g filter="url(#bs)"><rect x="327.6" y="988.2" width="17" height="6" fill="#f9d3bd" opacity="0.7"/><text x="336.1" y="994.1" font-size="6" font-weight="700" fill="#fff" opacity="0.5" text-anchor="middle" textLength="14.0" lengthAdjust="spacingAndGlyphs">148</text></g>
<text x="336.1" y="1008.0" font-size="7.8" fill="#333" text-anchor="middle" textLength="31.0" lengthAdjust="spacingAndGlyphs">2023-05</text>
<rect x="371.3" y="868.6" width="50.3" height="66.6" fill="#9fe8de"/>
<rect x="371.3" y="935.2" width="50.3" height="49.5" fill="#b58dfc"/>
<rect x="371.3" y="984.7" width="50.3" height="13.1" fill="#f6bb9a"/>
<g filter="url(#bh)"><rect x="385.4" y="856.1" width="22" height="8" fill="#e0e0e3" opacity="0.9"/><text x="396.4" y="863.0" font-size="8" font-weight="700" fill="#888" opacity="0.4" text-anchor="middle" textLength="19.0" lengthAdjust="spacingAndGlyphs">1,444</text></g>
<g filter="url(#bx)"><rect x="389.9" y="896.9" width="13" height="10" fill="#79bdb4" opacity="0.6"/><text x="396.4" y="904.8" font-size="9" font-weight="700" fill="#46605d" opacity="0.4" text-anchor="middle" textLength="10.0" lengthAdjust="spacingAndGlyphs">678</text></g>
<g filter="url(#bx)"><rect x="389.4" y="955.5" width="14" height="9" fill="#d3bdfe" opacity="0.75"/><text x="396.4" y="962.9" font-size="9" font-weight="700" fill="#fff" opacity="0.35" text-anchor="middle" textLength="11.0" lengthAdjust="spacingAndGlyphs">492</text></g>
<g filter="url(#bs)"><rect x="387.9" y="988.2" width="17" height="6" fill="#f9d3bd" opacity="0.7"/><text x="396.4" y="994.1" font-size="6" font-weight="700" fill="#fff" opacity="0.5" text-anchor="middle" textLength="14.0" lengthAdjust="spacingAndGlyphs">148</text></g>
<text x="396.4" y="1008.0" font-size="7.8" fill="#333" text-anchor="middle" textLength="31.0" lengthAdjust="spacingAndGlyphs">2023-06</text>
<rect x="431.7" y="884.9" width="50.3" height="58.9" fill="#9fe8de"/>
<rect x="431.7" y="943.8" width="50.3" height="43.5" fill="#b58dfc"/>
<rect x="431.7" y="987.3" width="50.3" height="10.5" fill="#f6bb9a"/>
<g filter="url(#bh)"><rect x="445.8" y="872.4" width="22" height="8" fill="#e0e0e3" opacity="0.9"/><text x="456.8" y="879.3" font-size="8" font-weight="700" fill="#888" opacity="0.4" text-anchor="middle" textLength="19.0" lengthAdjust="spacingAndGlyphs">1,262</text></g>
<g filter="url(#bx)"><rect x="450.3" y="909.3" width="13" height="10" fill="#79bdb4" opacity="0.6"/><text x="456.8" y="917.2" font-size="9" font-weight="700" fill="#46605d" opacity="0.4" text-anchor="middle" textLength="10.0" lengthAdjust="spacingAndGlyphs">678</text></g>
<g filter="url(#bx)"><rect x="449.8" y="961.0" width="14" height="9" fill="#d3bdfe" opacity="0.75"/><text x="456.8" y="968.4" font-size="9" font-weight="700" fill="#fff" opacity="0.35" text-anchor="middle" textLength="11.0" lengthAdjust="spacingAndGlyphs">492</text></g>
<g filter="url(#bs)"><rect x="448.3" y="989.5" width="17" height="6" fill="#f9d3bd" opacity="0.7"/><text x="456.8" y="995.4" font-size="6" font-weight="700" fill="#fff" opacity="0.5" text-anchor="middle" textLength="14.0" lengthAdjust="spacingAndGlyphs">148</text></g>
<text x="456.8" y="1008.0" font-size="7.8" fill="#333" text-anchor="middle" textLength="31.0" lengthAdjust="spacingAndGlyphs">2023-07</text>
<rect x="492.3" y="868.9" width="50.3" height="63.4" fill="#9fe8de"/>
<rect x="492.3" y="932.3" width="50.3" height="53.5" fill="#b58dfc"/>
<rect x="492.3" y="985.8" width="50.3" height="12.0" fill="#f6bb9a"/>
<g filter="url(#bh)"><rect x="506.5" y="856.4" width="22" height="8" fill="#e0e0e3" opacity="0.9"/><text x="517.5" y="863.3" font-size="8" font-weight="700" fill="#888" opacity="0.4" text-anchor="middle" textLength="19.0" lengthAdjust="spacingAndGlyphs">1,441</text></g>
<g filter="url(#bx)"><rect x="511.0" y="895.6" width="13" height="10" fill="#79bdb4" opacity="0.6"/><text x="517.5" y="903.5" font-size="9" font-weight="700" fill="#46605d" opacity="0.4" text-anchor="middle" textLength="10.0" lengthAdjust="spacingAndGlyphs">678</text></g>
<g filter="url(#bx)"><rect x="510.5" y="954.5" width="14" height="9" fill="#d3bdfe" opacity="0.75"/><text x="517.5" y="961.9" font-size="9" font-weight="700" fill="#fff" opacity="0.35" text-anchor="middle" textLength="11.0" lengthAdjust="spacingAndGlyphs">492</text></g>
<g filter="url(#bs)"><rect x="509.0" y="988.8" width="17" height="6" fill="#f9d3bd" opacity="0.7"/><text x="517.5" y="994.7" font-size="6" font-weight="700" fill="#fff" opacity="0.5" text-anchor="middle" textLength="14.0" lengthAdjust="spacingAndGlyphs">148</text></g>
<text x="517.5" y="1008.0" font-size="7.8" fill="#333" text-anchor="middle" textLength="31.0" lengthAdjust="spacingAndGlyphs">2023-08</text>
<rect x="552.6" y="873.9" width="50.3" height="61.4" fill="#9fe8de"/>
<rect x="552.6" y="935.3" width="50.3" height="48.5" fill="#b58dfc"/>
<rect x="552.6" y="983.8" width="50.3" height="14.0" fill="#f6bb9a"/>
<g filter="url(#bh)"><rect x="566.8" y="861.4" width="22" height="8" fill="#e0e0e3" opacity="0.9"/><text x="577.8" y="868.3" font-size="8" font-weight="700" fill="#888" opacity="0.4" text-anchor="middle" textLength="19.0" lengthAdjust="spacingAndGlyphs">1,386</text></g>
<g filter="url(#bx)"><rect x="571.2" y="899.6" width="13" height="10" fill="#79bdb4" opacity="0.6"/><text x="577.8" y="907.5" font-size="9" font-weight="700" fill="#46605d" opacity="0.4" text-anchor="middle" textLength="10.0" lengthAdjust="spacingAndGlyphs">678</text></g>
<g filter="url(#bx)"><rect x="570.8" y="955.0" width="14" height="9" fill="#d3bdfe" opacity="0.75"/><text x="577.8" y="962.4" font-size="9" font-weight="700" fill="#fff" opacity="0.35" text-anchor="middle" textLength="11.0" lengthAdjust="spacingAndGlyphs">492</text></g>
<g filter="url(#bs)"><rect x="569.2" y="987.8" width="17" height="6" fill="#f9d3bd" opacity="0.7"/><text x="577.8" y="993.7" font-size="6" font-weight="700" fill="#fff" opacity="0.5" text-anchor="middle" textLength="14.0" lengthAdjust="spacingAndGlyphs">148</text></g>
<text x="577.8" y="1008.0" font-size="7.8" fill="#333" text-anchor="middle" textLength="31.0" lengthAdjust="spacingAndGlyphs">2023-09</text>
<rect x="613" y="875.9" width="50.3" height="54.9" fill="#9fe8de"/>
<rect x="613" y="930.8" width="50.3" height="57.0" fill="#b58dfc"/>
<rect x="613" y="987.8" width="50.3" height="10.0" fill="#f6bb9a"/>
<g filter="url(#bh)"><rect x="627.1" y="863.4" width="22" height="8" fill="#e0e0e3" opacity="0.9"/><text x="638.1" y="870.3" font-size="8" font-weight="700" fill="#888" opacity="0.4" text-anchor="middle" textLength="19.0" lengthAdjust="spacingAndGlyphs">1,364</text></g>
<g filter="url(#bx)"><rect x="631.6" y="898.3" width="13" height="10" fill="#79bdb4" opacity="0.6"/><text x="638.1" y="906.2" font-size="9" font-weight="700" fill="#46605d" opacity="0.4" text-anchor="middle" textLength="10.0" lengthAdjust="spacingAndGlyphs">678</text></g>
<g filter="url(#bx)"><rect x="631.1" y="954.8" width="14" height="9" fill="#d3bdfe" opacity="0.75"/><text x="638.1" y="962.2" font-size="9" font-weight="700" fill="#fff" opacity="0.35" text-anchor="middle" textLength="11.0" lengthAdjust="spacingAndGlyphs">492</text></g>
<g filter="url(#bs)"><rect x="629.6" y="989.8" width="17" height="6" fill="#f9d3bd" opacity="0.7"/><text x="638.1" y="995.7" font-size="6" font-weight="700" fill="#fff" opacity="0.5" text-anchor="middle" textLength="14.0" lengthAdjust="spacingAndGlyphs">148</text></g>
<text x="638.1" y="1008.0" font-size="7.8" fill="#333" text-anchor="middle" textLength="31.0" lengthAdjust="spacingAndGlyphs">2023-10</text>
<rect x="673.1" y="894.4" width="50.3" height="51.4" fill="#9fe8de"/>
<rect x="673.1" y="945.8" width="50.3" height="41.0" fill="#b58dfc"/>
<rect x="673.1" y="986.8" width="50.3" height="11.0" fill="#f6bb9a"/>
<g filter="url(#bh)"><rect x="687.2" y="881.9" width="22" height="8" fill="#e0e0e3" opacity="0.9"/><text x="698.2" y="888.8" font-size="8" font-weight="700" fill="#888" opacity="0.4" text-anchor="middle" textLength="19.0" lengthAdjust="spacingAndGlyphs">1,157</text></g>
<g filter="url(#bx)"><rect x="691.8" y="915.1" width="13" height="10" fill="#79bdb4" opacity="0.6"/><text x="698.2" y="923.0" font-size="9" font-weight="700" fill="#46605d" opacity="0.4" text-anchor="middle" textLength="10.0" lengthAdjust="spacingAndGlyphs">678</text></g>
<g filter="url(#bx)"><rect x="691.2" y="961.8" width="14" height="9" fill="#d3bdfe" opacity="0.75"/><text x="698.2" y="969.2" font-size="9" font-weight="700" fill="#fff" opacity="0.35" text-anchor="middle" textLength="11.0" lengthAdjust="spacingAndGlyphs">492</text></g>
<g filter="url(#bs)"><rect x="689.8" y="989.3" width="17" height="6" fill="#f9d3bd" opacity="0.7"/><text x="698.2" y="995.2" font-size="6" font-weight="700" fill="#fff" opacity="0.5" text-anchor="middle" textLength="14.0" lengthAdjust="spacingAndGlyphs">148</text></g>
<text x="698.2" y="1008.0" font-size="7.8" fill="#333" text-anchor="middle" textLength="31.0" lengthAdjust="spacingAndGlyphs">2023-11</text>
<rect x="733.7" y="915.9" width="50.3" height="48.4" fill="#9fe8de"/>
<rect x="733.7" y="964.3" width="50.3" height="26.5" fill="#b58dfc"/>
<rect x="733.7" y="990.8" width="50.3" height="7.0" fill="#f6bb9a"/>
<g filter="url(#bh)"><rect x="747.9" y="903.4" width="22" height="8" fill="#e0e0e3" opacity="0.9"/><text x="758.9" y="910.3" font-size="8" font-weight="700" fill="#888" opacity="0.4" text-anchor="middle" textLength="19.0" lengthAdjust="spacingAndGlyphs">918</text></g>
<g filter="url(#bx)"><rect x="752.4" y="935.1" width="13" height="10" fill="#79bdb4" opacity="0.6"/><text x="758.9" y="943.0" font-size="9" font-weight="700" fill="#46605d" opacity="0.4" text-anchor="middle" textLength="10.0" lengthAdjust="spacingAndGlyphs">678</text></g>
<g filter="url(#bx)"><rect x="751.9" y="973.0" width="14" height="9" fill="#d3bdfe" opacity="0.75"/><text x="758.9" y="980.4" font-size="9" font-weight="700" fill="#fff" opacity="0.35" text-anchor="middle" textLength="11.0" lengthAdjust="spacingAndGlyphs">492</text></g>
<text x="758.9" y="1008.0" font-size="7.8" fill="#333" text-anchor="middle" textLength="31.0" lengthAdjust="spacingAndGlyphs">2023-12</text>
</svg>
</body></html>
